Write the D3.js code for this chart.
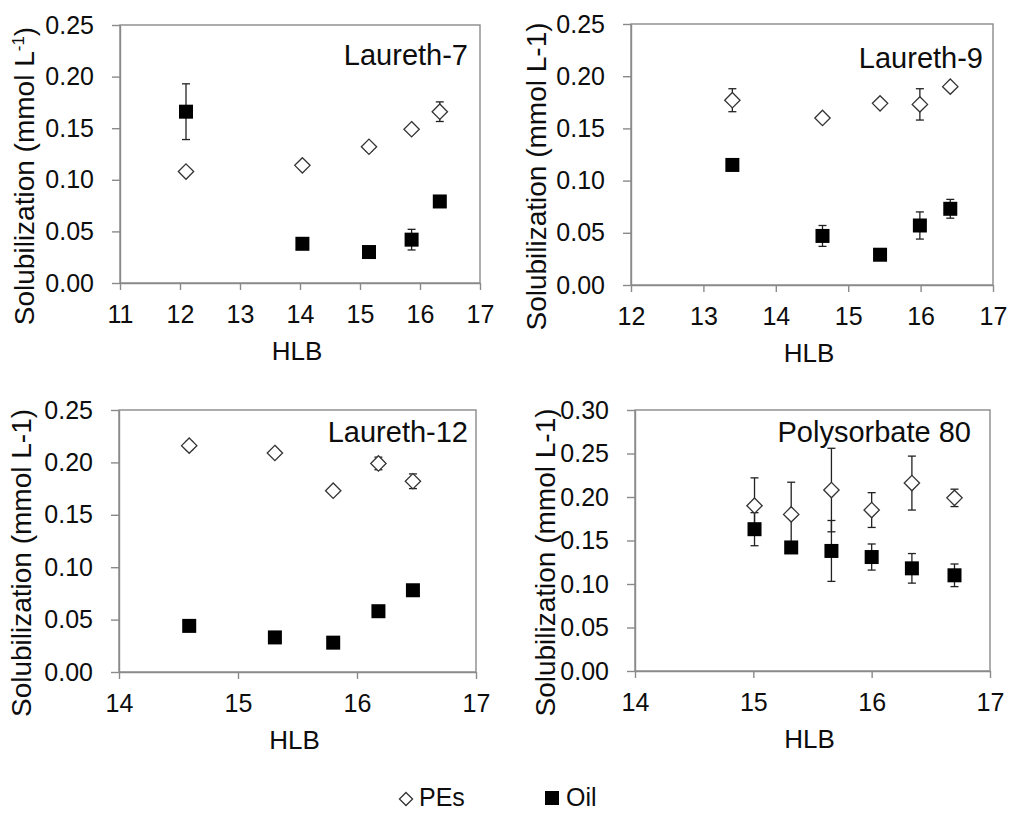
<!DOCTYPE html>
<html>
<head>
<meta charset="utf-8">
<script src="https://cdn.jsdelivr.net/npm/d3@7"></script>
<style>
  body { margin: 0; background: #fff; }
  svg { display: block; font-family: Arial, "Liberation Sans", sans-serif; }
</style>
</head>
<body>
<svg id="chart" width="1012" height="814"></svg>
<script>
// Laureth-7
const hlb7 = [12.1, 14.04, 15.15, 15.86, 16.33];
const pes7 = [0.108, 0.114, 0.132, 0.149, 0.166];
const pes7Err = [0.002, 0.002, 0.004, 0.003, 0.0095];
const oil7 = [0.166, 0.038, 0.030, 0.042, 0.079];
const oil7Err = [0.027, 0.002, 0.002, 0.010, 0.002];

// Laureth-9
const hlb9 = [13.40, 14.645, 15.44, 15.99, 16.41];
const pes9 = [0.177, 0.160, 0.174, 0.173, 0.190];
const pes9Err = [0.011, 0.002, 0.002, 0.015, 0.003];
const oil9 = [0.115, 0.047, 0.029, 0.057, 0.073];
const oil9Err = [0.002, 0.010, 0.002, 0.013, 0.009];

// Laureth-12
const hlb12 = [14.59, 15.31, 15.80, 16.18, 16.47];
const pes12 = [0.216, 0.209, 0.173, 0.199, 0.182];
const pes12Err = [0.004, 0.001, 0.001, 0.006, 0.007];
const oil12 = [0.044, 0.033, 0.028, 0.058, 0.078];
const oil12Err = [0.001, 0.001, 0.001, 0.001, 0.001];

// Polysorbate 80
const hlb80 = [15.01, 15.32, 15.66, 16.00, 16.34, 16.70];
const pes80 = [0.190, 0.180, 0.208, 0.185, 0.216, 0.199];
const pes80Err = [0.032, 0.037, 0.048, 0.020, 0.031, 0.010];
const oil80 = [0.163, 0.142, 0.138, 0.131, 0.118, 0.110];
const oil80Err = [0.019, 0.004, 0.035, 0.015, 0.017, 0.013];

const titles = ['Laureth-7', 'Laureth-9', 'Laureth-12', 'Polysorbate 80'];
const xDomains = [[11, 17], [12, 17], [14, 17], [14, 17]];
const yMaxes = [0.25, 0.25, 0.25, 0.30];
const legendLabels = ['PEs', 'Oil'];

const panels = [
  { title: titles[0], hlb: hlb7, pes: pes7, pesErr: pes7Err, oil: oil7, oilErr: oil7Err, xDomain: xDomains[0], yMax: yMaxes[0], sup: true },
  { title: titles[1], hlb: hlb9, pes: pes9, pesErr: pes9Err, oil: oil9, oilErr: oil9Err, xDomain: xDomains[1], yMax: yMaxes[1], sup: false },
  { title: titles[2], hlb: hlb12, pes: pes12, pesErr: pes12Err, oil: oil12, oilErr: oil12Err, xDomain: xDomains[2], yMax: yMaxes[2], sup: false },
  { title: titles[3], hlb: hlb80, pes: pes80, pesErr: pes80Err, oil: oil80, oilErr: oil80Err, xDomain: xDomains[3], yMax: yMaxes[3], sup: false }
];

// plot-area boxes and text offsets
const layout = [
  { l: 120, r: 480, t: 25, b: 283, titleDy: 40, titleDx: 12, labelX: 24 },
  { l: 631, r: 993, t: 24, b: 285, titleDy: 44, titleDx: 10, labelX: 536 },
  { l: 119, r: 476, t: 410, b: 672, titleDy: 32, titleDx: 8, labelX: 21 },
  { l: 635, r: 990, t: 410, b: 671, titleDy: 32, titleDx: 19, labelX: 545 }
];

const axisColor = '#8a8a8a';
const textColor = '#0d0d0d';
const fontSize = 25;
const svg = d3.select('#chart');

const diamond = d3.symbol().type(d3.symbolDiamond2).size(150);

panels.forEach((p, i) => {
  const box = layout[i];
  const g = svg.append('g');

  const x = d3.scaleLinear().domain(p.xDomain).range([box.l, box.r]);
  const y = d3.scaleLinear().domain([0, p.yMax]).range([box.b, box.t]);

  // frame
  g.append('rect')
    .attr('x', box.l).attr('y', box.t)
    .attr('width', box.r - box.l).attr('height', box.b - box.t)
    .attr('fill', 'none')
    .attr('stroke', axisColor)
    .attr('stroke-width', 1.4);

  const xAxis = d3.axisBottom(x)
    .tickValues(d3.range(p.xDomain[0], p.xDomain[1] + 1))
    .tickFormat(d3.format('d'))
    .tickSize(7).tickSizeOuter(0).tickPadding(15);

  const yAxis = d3.axisLeft(y)
    .tickValues(d3.range(0, p.yMax + 0.001, 0.05))
    .tickFormat(d3.format('.2f'))
    .tickSize(8).tickSizeOuter(0).tickPadding(18);

  const xg = g.append('g').attr('transform', `translate(0,${box.b})`).call(xAxis);
  const yg = g.append('g').attr('transform', `translate(${box.l},0)`).call(yAxis);

  [xg, yg].forEach(a => {
    a.selectAll('path, line').attr('stroke', axisColor).attr('stroke-width', 1.4);
    a.selectAll('text')
      .attr('fill', textColor)
      .style('font-size', `${fontSize}px`)
      .style('font-family', 'Arial, "Liberation Sans", sans-serif');
  });

  // x axis title
  g.append('text')
    .attr('x', (box.l + box.r) / 2 - 3)
    .attr('y', box.b + 77)
    .attr('text-anchor', 'middle')
    .style('font-size', '26px')
    .attr('fill', textColor)
    .text('HLB');

  // y axis title
  const yl = g.append('text')
    .attr('transform', `translate(${box.labelX},${(box.t + box.b) / 2 + 22}) rotate(-90)`)
    .attr('text-anchor', 'middle')
    .attr('dy', '0.35em')
    .style('font-size', '28px')
    .attr('fill', textColor);
  if (p.sup) {
    yl.append('tspan').text('Solubilization (mmol L');
    yl.append('tspan').attr('dy', -10).style('font-size', '17px').text('-1');
    yl.append('tspan').attr('dy', 10).text(')');
  } else {
    yl.text('Solubilization (mmol L-1)');
  }

  // panel title
  g.append('text')
    .attr('x', box.r - box.titleDx)
    .attr('y', box.t + box.titleDy)
    .attr('text-anchor', 'end')
    .style('font-size', '29px')
    .attr('fill', textColor)
    .text(p.title);

  const series = [
    { vals: p.pes, err: p.pesErr, kind: 'pes' },
    { vals: p.oil, err: p.oilErr, kind: 'oil' }
  ];

  // error bars first, markers on top
  series.forEach(s => {
    const eg = g.append('g').attr('stroke', '#222').attr('stroke-width', 1.3);
    s.vals.forEach((v, k) => {
      const cx = x(p.hlb[k]);
      const y1 = y(v + s.err[k]);
      const y0 = y(v - s.err[k]);
      eg.append('line').attr('x1', cx).attr('x2', cx).attr('y1', y1).attr('y2', y0);
      eg.append('line').attr('x1', cx - 4).attr('x2', cx + 4).attr('y1', y1).attr('y2', y1);
      eg.append('line').attr('x1', cx - 4).attr('x2', cx + 4).attr('y1', y0).attr('y2', y0);
    });
  });

  series.forEach(s => {
    const mg = g.append('g');
    s.vals.forEach((v, k) => {
      const cx = x(p.hlb[k]);
      const cy = y(v);
      if (s.kind === 'pes') {
        mg.append('path')
          .attr('d', diamond())
          .attr('transform', `translate(${cx},${cy})`)
          .attr('fill', '#fff')
          .attr('stroke', '#333')
          .attr('stroke-width', 1.3);
      } else {
        mg.append('rect')
          .attr('x', cx - 7).attr('y', cy - 7)
          .attr('width', 14).attr('height', 14)
          .attr('fill', '#000');
      }
    });
  });
});

// legend
const legend = svg.append('g');
legend.append('path')
  .attr('d', d3.symbol().type(d3.symbolDiamond2).size(110)())
  .attr('transform', 'translate(406,799)')
  .attr('fill', '#fff').attr('stroke', '#333').attr('stroke-width', 1.3);
legend.append('text')
  .attr('x', 419).attr('y', 806)
  .style('font-size', '25px').attr('fill', textColor)
  .text(legendLabels[0]);
legend.append('rect')
  .attr('x', 545).attr('y', 791).attr('width', 14).attr('height', 14)
  .attr('fill', '#000');
legend.append('text')
  .attr('x', 566).attr('y', 806)
  .style('font-size', '25px').attr('fill', textColor)
  .text(legendLabels[1]);
</script>
</body>
</html>
